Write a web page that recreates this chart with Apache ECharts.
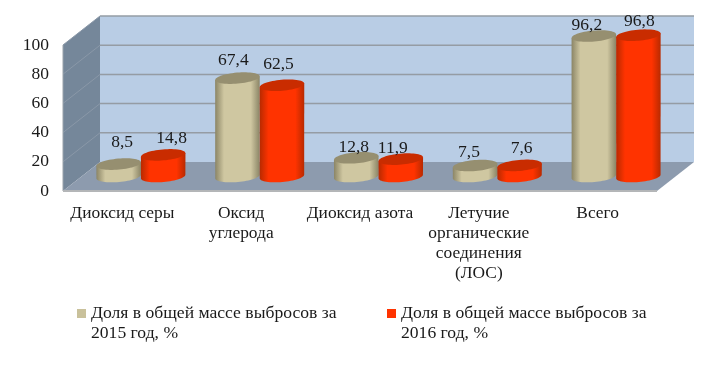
<!DOCTYPE html>
<html><head><meta charset="utf-8">
<style>html,body{margin:0;padding:0;background:#fff}#c{width:720px;height:365px}</style>
<script src="https://cdn.jsdelivr.net/npm/echarts@6/dist/echarts.min.js"></script>
</head><body><div id="c"></div>
<script>
const categories = ['Диоксид серы','Оксид\nуглерода','Диоксид азота','Летучие\nорганические\nсоединения\n(ЛОС)','Всего'];
const share2015 = [8.5, 67.4, 12.8, 7.5, 96.2];
const share2016 = [14.8, 62.5, 11.9, 7.6, 96.8];
const name2015 = 'Доля в общей массе выбросов за\n2015 год, %';
const name2016 = 'Доля в общей массе выбросов за\n2016 год, %';
const yTicks = [0, 20, 40, 60, 80, 100];

// layout
const DX = 37, DY = -29, FONT = 'Liberation Serif';
const TILT = 5 * Math.PI / 180, RY = 5.5;
const labelShift2015 = [[3.5,-22],[-4,-17.5],[-2.5,-10.5],[-6,-13],[-7,-10.5]];
const labelShift2016 = [[8.5,-16.5],[-3.5,-20.5],[-8,-10.5],[2,-16.5],[1,-13.5]];

const chart = echarts.init(document.getElementById('c'));

function ellPt(cx, cy, rx, t) {
  const x = rx * Math.cos(t), y = RY * Math.sin(t);
  return [cx + x * Math.cos(TILT) + y * Math.sin(TILT), cy - x * Math.sin(TILT) + y * Math.cos(TILT)];
}

function renderWalls(params, api) {
  const cs = params.coordSys;
  const L = cs.x, R = cs.x + cs.width;
  const y0 = api.coord([0, 0])[1], yT = api.coord([0, 100])[1];
  const poly = (pts, fill) => ({type:'polygon', shape:{points:pts}, style:{fill}, silent:true});
  const line = (a, b, stroke, w) => ({type:'line', shape:{x1:a[0],y1:a[1],x2:b[0],y2:b[1]}, style:{stroke, lineWidth:w}, silent:true});
  const ch = [
    poly([[L+DX,yT+DY],[R+DX,yT+DY],[R+DX,y0+DY],[L+DX,y0+DY]], '#b9cde5'),
    poly([[L,yT],[L+DX,yT+DY],[L+DX,y0+DY],[L,y0]], '#75879a'),
    poly([[L,y0],[L+DX,y0+DY],[R+DX,y0+DY],[R,y0]], '#8d9bae')
  ];
  yTicks.forEach(v => {
    const y = api.coord([0, v])[1];
    if (v > 0) {
      ch.push(line([L+DX,y+DY],[R+DX,y+DY], '#959ca4', 1.5));
      ch.push(line([L,y],[L+DX,y+DY], '#8a98a8', 1));
    }
  });
  ch.push(line([L,yT],[L,y0], '#9aa3ab', 1));
  ch.push(line([L,y0],[R,y0], '#b4b6b8', 2));
  return {type:'group', children:ch};
}

function cylinder(side, colors, labelShift) {
  return function (params, api) {
    const i = api.value(0), v = api.value(1);
    const w = api.size([1, 0])[0] * 0.375;
    const rx = w / 2;
    const base = api.coord([i, 0]), top = api.coord([i, v]);
    const cx = base[0] + DX / 2 + side * rx;
    const by = base[1] + DY / 2, ty = top[1] + DY / 2;
    const body = [];
    for (let k = 0; k <= 32; k++) body.push(ellPt(cx, by, rx, Math.PI * (1 - k / 32)));
    body.push([cx + rx, ty - rx * Math.sin(TILT)], [cx - rx, ty + rx * Math.sin(TILT)]);
    const cap = [];
    for (let k = 0; k < 60; k++) cap.push(ellPt(cx, ty, rx, 2 * Math.PI * k / 60));
    const s = labelShift[i];
    return {type:'group', children:[
      {type:'polygon', shape:{points:body}, style:{fill:new echarts.graphic.LinearGradient(0,0,1,0,[
        {offset:0,color:colors[0]},{offset:0.2,color:colors[1]},{offset:0.8,color:colors[1]},{offset:1,color:colors[0]}])}},
      {type:'polygon', shape:{points:cap}, style:{fill:colors[2]}},
      {type:'text', x:cx + s[0], y:ty + s[1], style:{text:v.toFixed(1).replace('.', ','), font:'17.5px "'+FONT+'"', fill:'#1a1a1a', align:'center', verticalAlign:'middle'}}
    ]};
  };
}

const legendBase = {orient:'horizontal', top:298, itemWidth:9, itemHeight:28, itemGap:0,
  icon:'path://M0,0H9V9H0ZM0,28L0,28',
  textStyle:{fontFamily:FONT, fontSize:17.6, color:'#1a1a1a', lineHeight:20, padding:0}, selectedMode:false};

chart.setOption({
  animation:false,
  backgroundColor:'#fff',
  legend:[
    Object.assign({}, legendBase, {left:72, data:[name2015]}),
    Object.assign({}, legendBase, {left:382, data:[name2016]})
  ],
  grid:{left:63, width:594, top:45, height:146},
  xAxis:{type:'category', data:categories, axisLine:{show:false}, axisTick:{show:false},
     axisLabel:{show:true, interval:0, margin:12, fontFamily:FONT, fontSize:17.4, color:'#1a1a1a', lineHeight:20, align:'center', verticalAlign:'top'}},
  yAxis:{type:'value', min:0, max:100, interval:20, axisLine:{show:false}, axisTick:{show:false}, splitLine:{show:false},
     axisLabel:{margin:14, fontFamily:FONT, fontSize:17.5, color:'#1a1a1a', padding:[3,0,0,0]}},
  series:[
    {type:'custom', name:'walls', clip:false, silent:true, z:1, data:[[0,0]], renderItem:renderWalls},
    {type:'custom', name:name2015, clip:false, z:2, itemStyle:{color:'#c9c19b'},
     data:share2015.map((v,i)=>[i,v]), encode:{x:0,y:1},
     renderItem:cylinder(-1, ['#8b8566','#cfc7a1','#968f70'], labelShift2015)},
    {type:'custom', name:name2016, clip:false, z:3, itemStyle:{color:'#ff3300'},
     data:share2016.map((v,i)=>[i,v]), encode:{x:0,y:1},
     renderItem:cylinder(1, ['#b82a00','#ff3300','#c92c00'], labelShift2016)}
  ]
});
</script></body></html>
